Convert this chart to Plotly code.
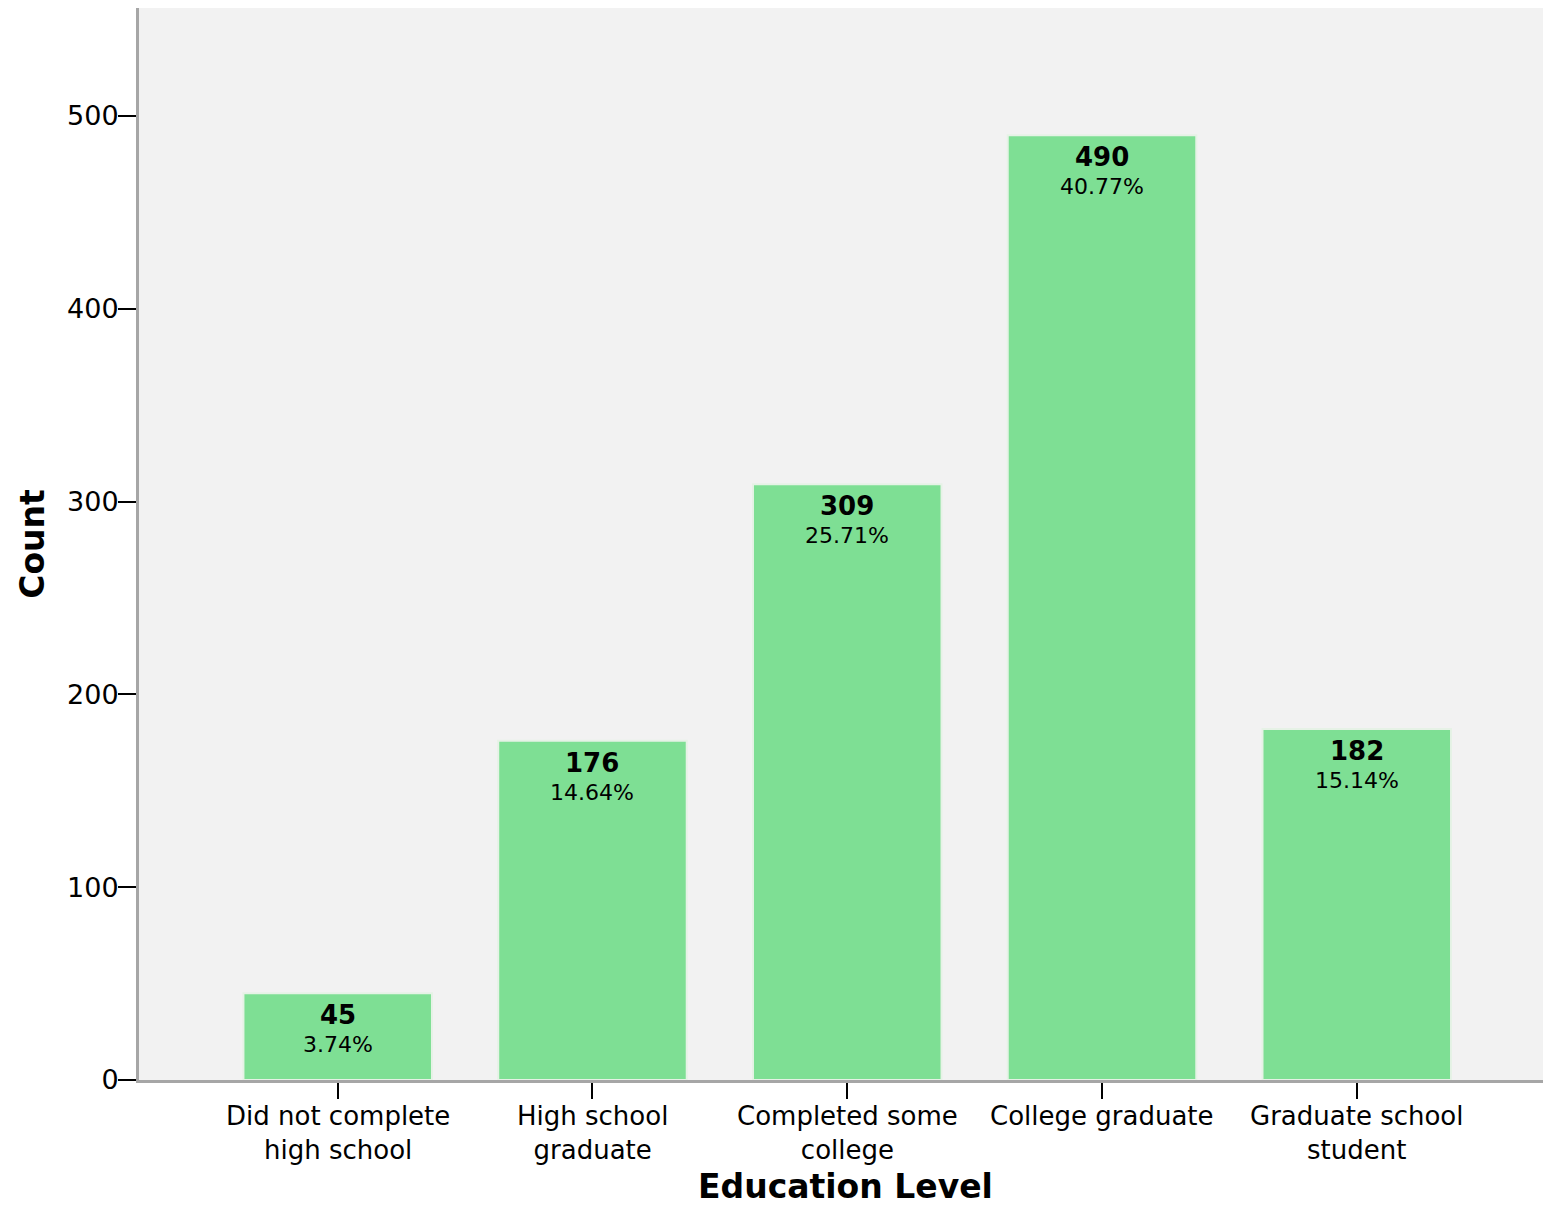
import plotly.graph_objects as go

categories = ["Did not complete<br>high school", "High school<br>graduate",
              "Completed some<br>college", "College graduate", "Graduate school<br>student"]
counts = [45, 176, 309, 490, 182]
percents = ["3.74%", "14.64%", "25.71%", "40.77%", "15.14%"]
y_ticks = [0, 100, 200, 300, 400, 500]
x_title = "Education Level"
y_title = "Count"

FONT = "DejaVu Sans"
xs = list(range(len(categories)))

fig = go.Figure()
fig.add_trace(go.Bar(
    x=xs, y=counts, width=0.74,
    marker=dict(color="#7edf94", line=dict(color="#e6f2e6", width=2)),
    hoverinfo="skip",
))

for i, (c, p) in enumerate(zip(counts, percents)):
    fig.add_annotation(x=i, y=c, text=f"<b>{c}</b>", showarrow=False,
                       yanchor="top", yshift=-5,
                       font=dict(family=FONT, size=26, color="black"))
    fig.add_annotation(x=i, y=c, text=p, showarrow=False,
                       yanchor="top", yshift=-37,
                       font=dict(family=FONT, size=22, color="black"))

# category labels below the axis
for i, cat in enumerate(categories):
    fig.add_annotation(x=i, xref="x", y=0, yref="paper", text=cat,
                       showarrow=False, yanchor="top", yshift=-19,
                       font=dict(family=FONT, size=26, color="black"))

# x axis title
fig.add_annotation(x=0.503, xref="paper", y=0, yref="paper", text=f"<b>{x_title}</b>",
                   showarrow=False, yanchor="middle", yshift=-106,
                   font=dict(family=FONT, size=33, color="black"))

fig.update_layout(
    width=1535, height=1197,
    margin=dict(l=131, r=0, t=0, b=125),
    paper_bgcolor="white", plot_bgcolor="#f2f2f2",
    showlegend=False,
    font=dict(family=FONT, size=24, color="black"),
)
fig.update_xaxes(
    range=[-0.78, 4.731], automargin=False,
    tickmode="array", tickvals=xs, showticklabels=False,
    ticks="outside", ticklen=16, tickwidth=2, tickcolor="black",
    showline=True, linecolor="#a6a6a6", linewidth=3,
    showgrid=False, zeroline=False,
)
fig.update_yaxes(
    range=[0, 556], automargin=False,
    tickmode="array", tickvals=y_ticks,
    ticks="outside", ticklen=18, tickwidth=2, tickcolor="black",
    ticklabelstandoff=-6,
    showline=True, linecolor="#a6a6a6", linewidth=3,
    showgrid=False, zeroline=False,
    tickfont=dict(family=FONT, size=27, color="black"),
    title=dict(text=f"<b>{y_title}</b>", font=dict(family=FONT, size=33, color="black"), standoff=13),
)

fig.write_html("out.html")
